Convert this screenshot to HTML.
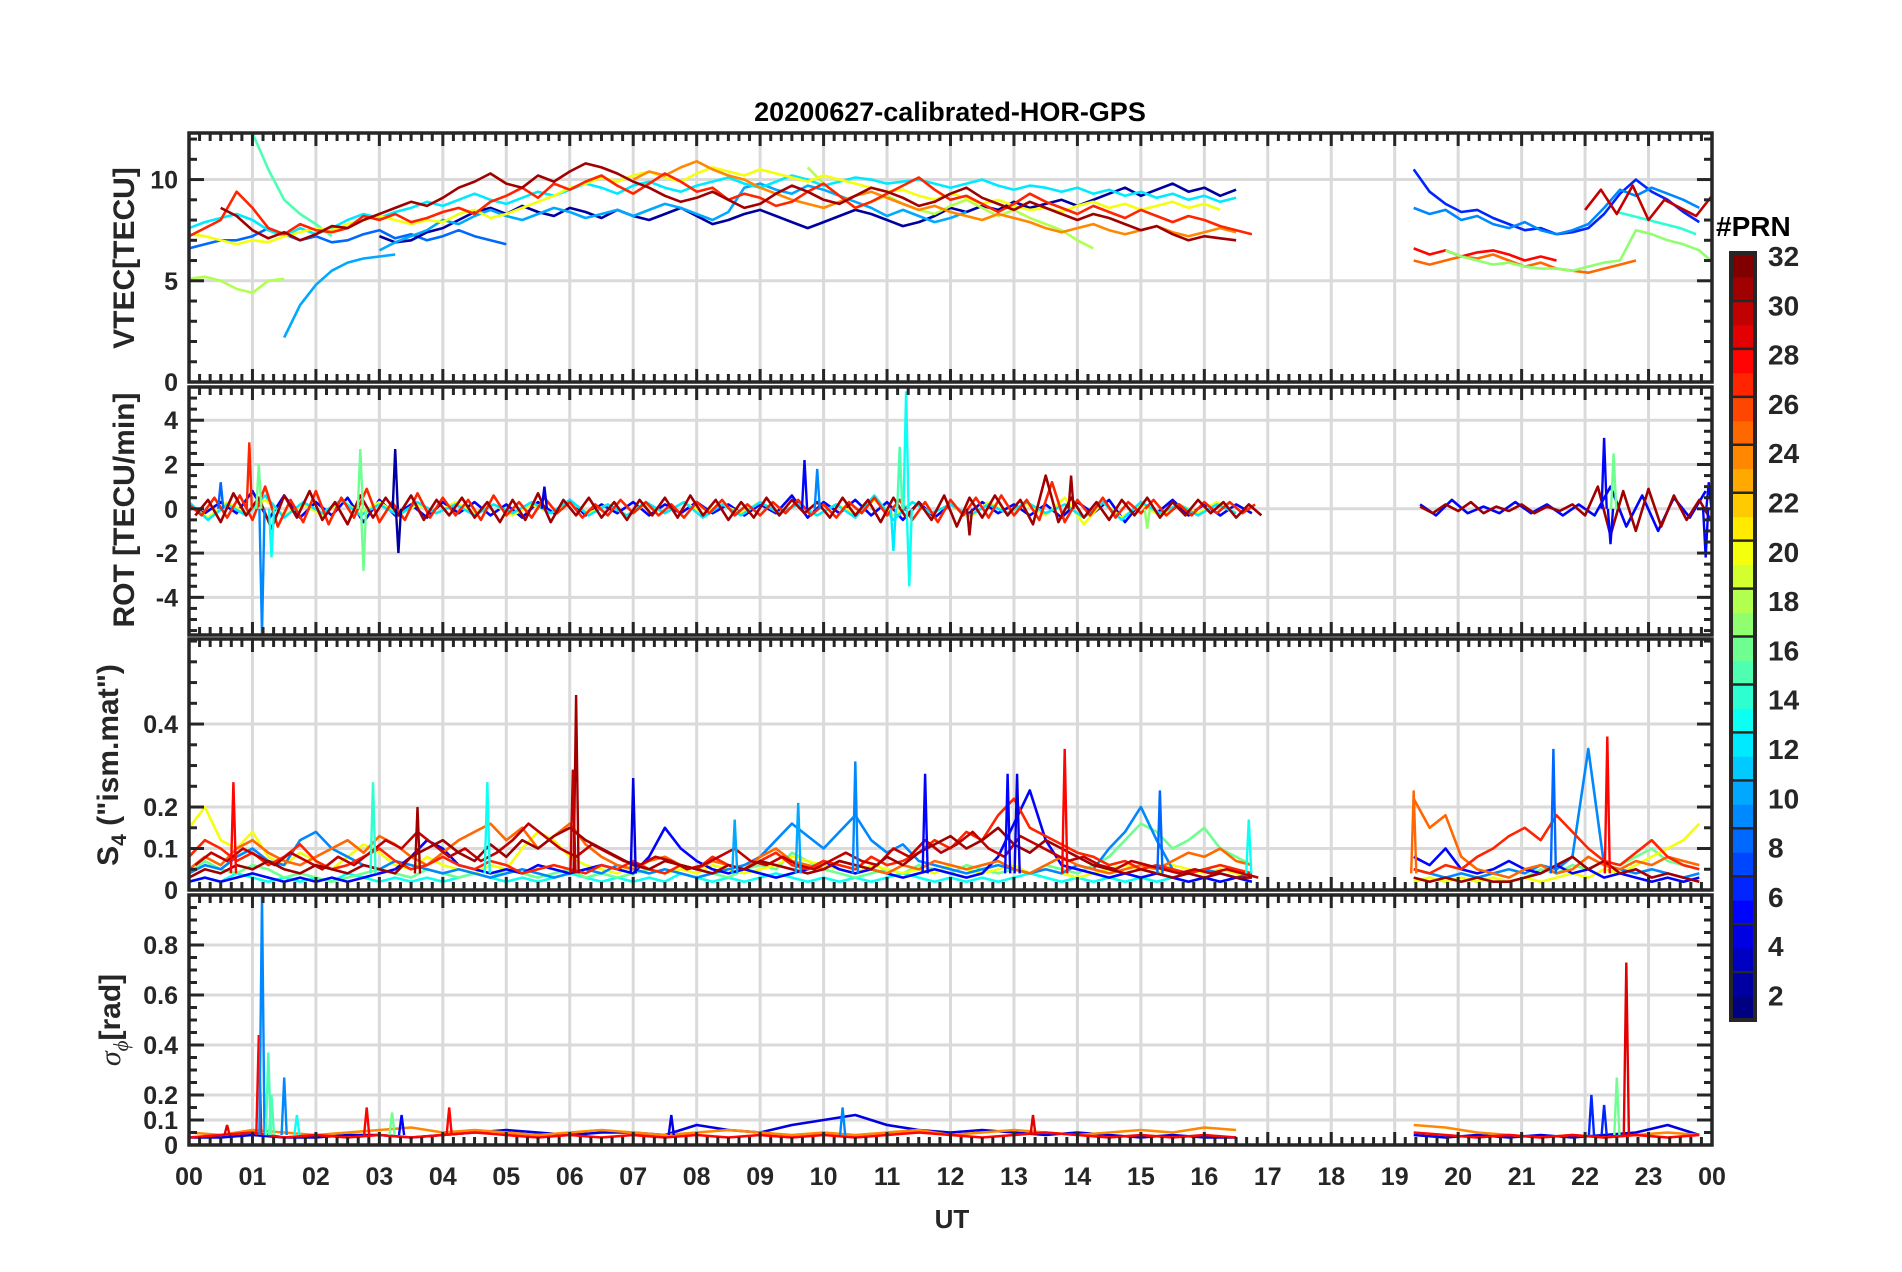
<!DOCTYPE html>
<html><head><meta charset="utf-8"><style>
html,body{margin:0;padding:0;background:#fff}
svg{display:block}
text{font-family:"Liberation Sans",Arial,sans-serif;font-weight:bold;fill:#262626}
</style></head>
<body>
<svg id="fig" width="1902" height="1272" viewBox="0 0 1902 1272" xmlns="http://www.w3.org/2000/svg">
<text x="950" y="121" text-anchor="middle" font-size="27" style="fill:#000">20200627-calibrated-HOR-GPS</text>
<text transform="translate(134,258) rotate(-90)" text-anchor="middle" font-size="30">VTEC[TECU]</text>
<text transform="translate(134,510) rotate(-90)" text-anchor="middle" font-size="30">ROT [TECU/min]</text>
<text transform="translate(118,765) rotate(-90)" text-anchor="middle" font-size="30">S<tspan font-size="21" dy="8">4</tspan><tspan dy="-8"> ("ism.mat")</tspan></text>
<text transform="translate(120,1020) rotate(-90)" text-anchor="middle" font-size="30"><tspan font-style="italic" font-weight="normal" font-family="Liberation Serif">σ</tspan><tspan font-size="21" dy="8" font-style="italic" font-weight="normal" font-family="Liberation Serif">ϕ</tspan><tspan dy="-8">[rad]</tspan></text>
<text x="952" y="1228" text-anchor="middle" font-size="26">UT</text>
<text x="1716" y="236" font-size="28" style="fill:#000">#PRN</text>
<g id="grid"></g><g id="data"></g><g id="axes"></g><g id="cbar"></g>
</svg>
<script>
// ---------- DATA ----------
// VTEC (TECU), step 0.25 h
const vtecRed27 = [7.2,7.6,8.0,9.4,8.6,7.6,7.3,7.8,7.5,7.4,7.6,8.2,8.0,8.3,7.9,8.1,8.4,8.6,8.3,8.9,9.2,9.6,9.1,9.8,9.5,9.9,10.2,9.7,9.3,9.8,10.3,9.9,9.4,9.6,9.0,9.3,9.1,8.7,8.9,9.4,9.8,9.2,8.6,8.9,9.3,9.7,10.1,9.5,9.0,9.2,8.8,8.4,8.8,9.3,8.9,8.6,8.3,8.7,8.4,8.1,8.5,8.2,7.9,8.2,8.0,7.7,7.5,7.3];
const vtecDark31 = [8.6,8.2,7.5,7.1,7.4,7.0,7.3,7.7,7.6,8.0,8.3,8.6,8.9,8.7,9.1,9.6,9.9,10.3,9.8,9.6,10.2,9.9,10.4,10.8,10.6,10.3,9.9,9.6,9.2,8.9,9.1,9.4,9.0,8.6,8.8,9.3,9.7,9.4,9.0,8.8,9.2,9.6,9.4,9.1,8.7,8.9,9.3,9.6,9.1,8.8,8.5,8.9,8.6,8.3,8.0,8.3,8.1,7.8,7.5,7.7,7.3,7.0,7.2,7.1,7.0];
const vtecBlue8 = [6.6,6.8,7.0,7.0,7.2,7.6,7.3,7.0,7.2,6.9,7.0,7.3,7.5,7.1,7.3,7.0,7.2,7.5,7.2,7.0,6.8];
const vtecNavy2 = [7.2,6.9,7.0,7.4,7.6,8.0,8.4,8.6,8.3,8.7,8.4,8.2,8.6,8.4,8.1,8.5,8.2,8.0,8.3,8.6,8.2,7.8,8.0,8.3,8.5,8.2,7.9,7.6,7.9,8.2,8.5,8.3,8.0,7.7,7.9,8.2,8.6,8.4,8.7,8.5,8.9,8.6,8.8,9.0,8.7,9.0,9.3,9.6,9.2,9.5,9.8,9.4,9.6,9.2,9.5];
const vtecCyan12 = [7.6,7.9,8.1,8.3,8.0,7.5,7.2,7.6,7.3,7.6,8.0,8.3,8.1,8.4,8.6,8.9,8.7,9.0,9.3,9.0,8.8,9.1,9.4,9.2,9.5,9.8,9.6,9.3,9.7,9.9,9.6,9.4,9.7,9.9,10.1,9.8,9.6,9.9,10.2,10.0,9.7,9.9,10.1,10.0,9.8,9.9,10.0,9.8,9.6,9.8,10.0,9.7,9.5,9.7,9.6,9.4,9.6,9.3,9.5,9.2,9.4,9.1,9.3,9.0,9.2,8.9,9.1];
const vtecYellow20 = [7.3,7.2,7.0,6.8,7.0,6.9,7.2,7.4,7.6,7.5,7.8,8.0,8.2,8.0,7.8,8.0,7.9,8.3,8.5,8.1,8.3,8.6,8.9,9.2,9.6,9.8,10.1,9.9,10.2,10.4,10.1,9.9,10.3,10.6,10.4,10.2,10.5,10.3,10.1,9.9,10.2,10.0,9.8,9.6,9.4,9.5,9.2,9.0,9.3,9.1,8.8,9.0,8.7,8.5,8.6,8.4,8.7,8.9,8.6,8.8,8.5,8.7,8.9,8.6,8.8,8.5];
const vtecOrange24 = [10.0,10.4,10.2,10.6,10.9,10.5,10.2,10.0,9.6,9.3,9.0,8.8,8.6,8.9,9.2,9.4,9.1,8.8,8.5,8.7,8.4,8.2,8.0,8.3,8.1,7.9,7.6,7.4,7.6,7.8,7.5,7.3,7.5,7.7,7.4,7.2,7.4,7.6,7.4];
const vtecLime18a = [5.1,5.2,5.0,4.6,4.4,5.0,5.1];
const vtecLime18b = [10.6,9.8,9.2,8.6,8.9,9.2,8.8,8.5,8.3,8.7,9.0,8.6,8.2,8.5,8.1,7.8,7.5,7.0,6.6];
const vtecSky10a = [2.2,3.8,4.8,5.5,5.9,6.1,6.2,6.3];
const vtecSky10b = [6.5,6.9,7.2,7.5,8.0,7.8,8.2,8.5,8.2,8.0,8.3,8.6,8.4,8.1,8.3,8.5,8.2,8.5,8.8,8.6,8.3,8.0,8.4,9.6,9.8,9.5,9.3,9.7,9.5,9.2,8.9,8.6,8.2,8.5,8.2,7.9,8.1,8.4];
const vtecGreen15 = [12.3,10.5,9.0,8.3,7.8,7.2];
const vtecBlue6Eve = [10.5,9.4,8.8,8.4,8.5,8.1,7.8,7.5,7.6,7.3,7.4,7.6,8.3,9.3,10.0,9.4,9.0,8.4,7.9];
const vtecSky9Eve = [8.6,8.3,8.5,8.0,8.2,7.8,7.6,7.9,7.5,7.3,7.5,7.8,8.6,9.5,9.2,9.6,9.3,9.0,8.6];
const vtecRed28Eve = [6.6,6.3,6.5,6.2,6.4,6.5,6.3,6.0,6.2,6.0];
const vtecOrange25Eve = [6.0,5.8,6.0,6.2,6.1,6.3,6.0,5.7,5.9,5.6,5.5,5.4,5.6,5.8,6.0];
const vtecGreen17Eve = [6.5,6.2,6.0,5.8,5.9,5.7,5.6,5.6,5.5,5.7,5.9,6.0,7.5,7.3,7.0,6.8,6.5,5.8];
const vtecDark30Eve = [8.5,9.5,8.3,9.7,8.0,9.0,8.6,8.2,9.2];
const vtecCyan14Eve = [8.4,8.2,8.0,7.8,7.6,7.3];
// ROT (TECU/min)
const rotRed27 = [0.2,-0.3,0.5,-0.4,0.6,-0.5,1.0,-0.8,0.4,-0.6,0.8,-0.7,0.5,-0.4,0.9,-0.6,0.3,-0.5,0.7,-0.4,0.5,-0.3,0.4,-0.5,0.6,-0.3,0.3,-0.4,0.5,-0.2,0.3,-0.4,0.2,-0.3,0.4,-0.2,0.3,-0.3,0.2,-0.4,0.3,-0.2,0.4,-0.3,0.2,-0.3,0.3,-0.2,0.4,-0.3,0.2,-0.4,0.3,-0.2,0.5,-0.3,0.4,-0.5,0.3,-0.6,0.4,-0.3,0.5,-0.4,0.6,-0.3,0.4,-0.5,1.2,-0.6,0.4,-0.3,0.5,-0.4,0.3,-0.2,0.4,-0.3,0.2,-0.3,0.3,-0.2,0.3,-0.2,0.2];
const rotRed27Eve = [0.1,-0.2,0.2,-0.1,0.3,-0.2,0.1,-0.1,0.2,-0.2,0.1,-0.1,0.2,-0.3,1.0,-1.2,0.8,-1.0,0.9,-0.8,0.6,-0.5,0.4,-0.6];
const rotDark31 = [-0.3,0.4,-0.6,0.7,-0.3,0.5,-0.9,0.6,-0.4,0.8,-0.5,0.3,-0.7,0.6,-0.4,0.5,-0.3,0.6,-0.5,0.4,-0.3,0.5,-0.4,0.3,-0.6,0.4,-0.5,0.7,-0.6,0.4,-0.3,0.5,-0.4,0.3,-0.5,0.4,-0.3,0.5,-0.4,0.6,-0.3,0.4,-0.5,0.3,-0.4,0.5,-0.3,0.4,-0.2,0.3,-0.4,0.5,-0.3,0.4,-0.6,0.5,-0.4,0.3,-0.5,0.6,-0.8,0.5,-0.4,0.6,-0.3,0.4,-0.7,1.5,-0.6,0.5,-0.4,0.3,-0.5,0.4,-0.3,0.5,-0.4,0.3,-0.3,0.4,-0.2,0.3,-0.4,0.2,-0.3];
const rotCyan12 = [0.3,-0.5,0.2,-0.3,0.6,-0.4,0.3,-0.2,0.4,-0.3,0.2,-0.3,0.3,-0.2,0.2,-0.3,0.2,-0.2,0.3,-0.2,0.4,-0.3,0.2,-0.3,0.3,-0.2,0.3,-0.4,0.2,-0.3,0.3,-0.2,0.2,-0.3,0.2,-0.4,0.6,-0.5,0.3,-0.2,0.2,-0.3,0.2,-0.2,0.3,-0.2,0.2,-0.4,0.3,-0.5,0.3,-0.2,0.2,-0.3,0.2,-0.2];
const rotBlue5 = [0.1,-0.2,0.3,-0.2,0.8,-0.5,0.6,-0.4,0.3,-0.3,0.5,-0.6,0.4,-0.3,0.2,-0.4,0.3,-0.2,0.3,-0.3,0.2,-0.4,0.3,-0.2,0.4,-0.3,0.2,-0.2,0.3,-0.3,0.2,-0.2,0.3,-0.2,0.2,-0.3,0.2,-0.2,0.6,-0.4,0.3,-0.2,0.4,-0.3,0.3,-0.5,0.3,-0.4,0.2,-0.3,0.3,-0.2,0.2,-0.3,0.2,-0.4,0.3,-0.2,0.4,-0.6,0.3,-0.2,0.4,-0.3,0.2,-0.3,0.2,-0.2];
const rotBlue5Eve = [0.2,-0.3,0.4,-0.2,0.1,-0.2,0.3,-0.2,0.2,-0.3,0.2,-0.3,1.0,-0.8,0.6,-1.0,0.5,-0.4,0.8];
const rotYellow20 = [0.2,-0.4,0.3,-0.2,0.4,-0.3,0.2,-0.3,0.4,-0.2,0.3,-0.3,0.2,-0.2,0.3,-0.2,0.2,-0.3,0.2,-0.2,0.3,-0.2,0.2,-0.3,0.2,-0.2,0.3,-0.2,0.2,-0.2,0.3,-0.2,0.2,-0.3,0.2,-0.2,0.4,-0.3,0.3,-0.2,0.2,-0.4,0.3,-0.2,0.2,-0.3,0.5,-0.7,0.3,-0.4,0.2,-0.3,0.2,-0.2,0.3,-0.2];
const rotSpikeT = [0.95,1.15,1.1,1.3,2.7,2.75,3.25,3.3,9.7,9.9,11.3,11.35,11.2,11.1,13.9,12.3,22.3,22.4,22.45,23.95,23.9,15.1,0.5,5.6];
const rotSpikeV = [3.0,-5.7,2.0,-2.2,2.7,-2.8,2.7,-2.0,2.2,1.8,5.3,-3.5,2.8,-1.9,1.5,-1.2,3.2,-1.6,2.5,1.2,-2.2,-0.9,1.2,1.0];
const rotSpikePrn = [27,9,16,13,16,16,2,2,5,9,13,13,15,12,31,31,5,5,16,5,5,17,8,4];
// S4, step 0.25 h
const s4Dark31 = [0.03,0.05,0.04,0.06,0.05,0.07,0.05,0.04,0.06,0.05,0.04,0.06,0.05,0.04,0.08,0.10,0.12,0.09,0.07,0.11,0.08,0.12,0.10,0.13,0.15,0.12,0.10,0.08,0.06,0.05,0.07,0.06,0.05,0.04,0.06,0.05,0.07,0.06,0.05,0.04,0.05,0.07,0.06,0.05,0.08,0.06,0.09,0.11,0.13,0.10,0.12,0.15,0.11,0.09,0.12,0.10,0.08,0.06,0.05,0.04,0.05,0.04,0.03,0.04,0.03,0.04,0.03,0.03];
const s4Dark31Eve = [0.03,0.02,0.03,0.02,0.03,0.02,0.02,0.03,0.04,0.06,0.08,0.05,0.07,0.04,0.05,0.03,0.04,0.03,0.02];
const s4Dark30 = [0.06,0.09,0.07,0.10,0.08,0.06,0.09,0.07,0.05,0.08,0.06,0.09,0.12,0.10,0.14,0.11,0.08,0.10,0.07,0.09,0.12,0.16,0.13,0.10,0.08,0.11,0.09,0.07,0.06,0.08,0.07,0.05,0.06,0.08,0.10,0.07,0.06,0.08,0.06,0.05,0.07,0.09,0.07,0.06,0.10,0.08,0.12,0.09,0.11,0.14,0.10,0.08,0.13,0.11,0.09,0.07,0.08,0.06,0.05,0.07,0.06,0.05,0.04,0.05,0.04,0.05,0.04,0.03];
const s4Cyan13 = [0.02,0.03,0.02,0.04,0.03,0.02,0.03,0.02,0.03,0.02,0.04,0.03,0.02,0.03,0.02,0.03,0.02,0.03,0.04,0.03,0.02,0.03,0.02,0.03,0.04,0.03,0.02,0.03,0.02,0.03,0.02,0.04,0.03,0.02,0.03,0.02,0.03,0.04,0.03,0.02,0.03,0.02,0.03,0.02,0.03,0.04,0.03,0.02,0.03,0.02,0.03,0.02,0.03,0.04,0.03,0.02,0.03,0.02,0.03,0.02,0.03,0.02,0.03,0.02,0.03,0.02,0.03,0.02];
const s4Red27 = [0.08,0.12,0.10,0.07,0.09,0.06,0.08,0.11,0.07,0.05,0.06,0.08,0.10,0.07,0.05,0.06,0.08,0.06,0.05,0.07,0.06,0.04,0.05,0.06,0.05,0.04,0.06,0.05,0.07,0.05,0.04,0.06,0.05,0.08,0.06,0.05,0.07,0.09,0.06,0.05,0.07,0.06,0.05,0.08,0.06,0.07,0.09,0.12,0.10,0.14,0.12,0.18,0.22,0.15,0.13,0.11,0.09,0.08,0.06,0.07,0.05,0.06,0.05,0.04,0.05,0.06,0.05,0.04];
const s4Red27Eve = [0.05,0.04,0.06,0.05,0.08,0.10,0.13,0.15,0.12,0.18,0.14,0.10,0.07,0.06,0.09,0.12,0.08,0.06,0.05];
const s4Orange25 = [0.05,0.08,0.06,0.10,0.12,0.09,0.07,0.06,0.08,0.10,0.12,0.09,0.13,0.11,0.08,0.06,0.09,0.12,0.14,0.16,0.12,0.15,0.10,0.13,0.16,0.11,0.08,0.06,0.05,0.07,0.08,0.06,0.05,0.07,0.06,0.05,0.08,0.10,0.07,0.06,0.05,0.07,0.06,0.05,0.04,0.06,0.05,0.07,0.06,0.05,0.06,0.07,0.05,0.04,0.06,0.08,0.06,0.05,0.04,0.05,0.06,0.05,0.07,0.09,0.08,0.10,0.07,0.06];
const s4Orange25Eve = [0.22,0.15,0.18,0.08,0.05,0.04,0.03,0.05,0.06,0.04,0.05,0.08,0.06,0.05,0.07,0.06,0.08,0.07,0.06];
const s4Yellow20 = [0.15,0.20,0.12,0.10,0.14,0.08,0.06,0.09,0.07,0.05,0.08,0.11,0.09,0.06,0.05,0.08,0.06,0.05,0.04,0.06,0.05,0.10,0.14,0.12,0.08,0.06,0.05,0.04,0.06,0.05,0.04,0.05,0.04,0.06,0.05,0.04,0.05,0.06,0.08,0.07,0.06,0.05,0.04,0.06,0.05,0.04,0.05,0.04,0.06,0.05,0.04,0.05,0.06,0.04,0.05,0.04,0.03,0.04,0.05,0.06,0.05,0.04,0.06,0.05,0.04,0.05,0.04,0.03];
const s4Yellow20Eve = [0.02,0.03,0.02,0.03,0.02,0.03,0.02,0.03,0.02,0.03,0.04,0.03,0.05,0.04,0.06,0.08,0.10,0.12,0.16];
const s4Sky9 = [0.04,0.06,0.05,0.08,0.10,0.07,0.06,0.12,0.14,0.10,0.08,0.06,0.05,0.07,0.06,0.05,0.04,0.05,0.04,0.03,0.04,0.05,0.04,0.03,0.04,0.05,0.04,0.06,0.05,0.04,0.05,0.04,0.03,0.04,0.05,0.06,0.08,0.12,0.16,0.13,0.10,0.14,0.18,0.12,0.09,0.11,0.07,0.06,0.05,0.04,0.05,0.06,0.05,0.04,0.05,0.04,0.06,0.05,0.10,0.14,0.20,0.12,0.05,0.04,0.05,0.04,0.03,0.04];
const s4Sky9Eve = [0.05,0.04,0.03,0.04,0.03,0.04,0.05,0.04,0.06,0.05,0.08,0.34,0.06,0.05,0.04,0.05,0.04,0.03,0.04];
const s4Blue5 = [0.02,0.03,0.02,0.03,0.04,0.03,0.02,0.03,0.02,0.03,0.02,0.03,0.04,0.05,0.08,0.12,0.10,0.06,0.05,0.04,0.05,0.04,0.06,0.05,0.04,0.05,0.06,0.05,0.04,0.08,0.15,0.10,0.07,0.05,0.04,0.05,0.04,0.03,0.04,0.05,0.07,0.05,0.04,0.05,0.04,0.03,0.04,0.05,0.04,0.03,0.04,0.08,0.16,0.24,0.12,0.06,0.05,0.04,0.03,0.04,0.03,0.04,0.03,0.02,0.03,0.02,0.03,0.02];
const s4Blue5Eve = [0.08,0.06,0.10,0.05,0.04,0.05,0.07,0.05,0.04,0.06,0.04,0.05,0.03,0.04,0.03,0.02,0.03,0.02,0.03];
const s4Green16 = [0.04,0.07,0.05,0.04,0.06,0.05,0.03,0.04,0.03,0.02,0.03,0.04,0.05,0.04,0.03,0.05,0.04,0.03,0.04,0.03,0.05,0.04,0.03,0.04,0.05,0.03,0.04,0.03,0.04,0.05,0.04,0.06,0.05,0.04,0.03,0.05,0.06,0.05,0.09,0.07,0.05,0.04,0.03,0.04,0.05,0.04,0.06,0.05,0.04,0.06,0.05,0.04,0.05,0.04,0.06,0.05,0.04,0.06,0.08,0.12,0.16,0.14,0.10,0.12,0.15,0.10,0.08,0.06];
const s4Green16Eve = [0.02,0.03,0.02,0.03,0.02,0.03,0.02,0.03,0.05,0.04,0.06,0.05,0.07,0.06,0.08,0.10,0.07,0.06,0.05];
const s4SpikeT = [6.1,13.8,22.35,21.5,9.6,10.5,12.9,13.05,0.7,2.9,4.7,11.6,7.0,15.3,16.7,19.3,6.05,3.6,8.6];
const s4SpikeV = [0.47,0.34,0.37,0.34,0.21,0.31,0.28,0.28,0.26,0.26,0.26,0.28,0.27,0.24,0.17,0.24,0.29,0.20,0.17];
const s4SpikePrn = [31,28,28,8,10,9,5,4,28,14,13,5,4,8,13,25,30,31,10];
// Sigma-phi (rad), step 0.5 h
const sigOrange24 = [0.05,0.04,0.06,0.05,0.04,0.05,0.06,0.07,0.05,0.06,0.05,0.04,0.05,0.06,0.05,0.04,0.05,0.06,0.05,0.04,0.05,0.04,0.05,0.06,0.04,0.05,0.06,0.05,0.04,0.05,0.06,0.05,0.07,0.06];
const sigOrange24Eve = [0.08,0.07,0.05,0.04,0.03,0.04,0.03,0.04,0.05,0.04];
const sigRed28 = [0.03,0.04,0.05,0.03,0.04,0.03,0.04,0.03,0.04,0.05,0.04,0.03,0.04,0.03,0.04,0.03,0.04,0.03,0.04,0.03,0.04,0.03,0.04,0.05,0.04,0.03,0.04,0.05,0.04,0.03,0.04,0.03,0.04,0.03];
const sigRed28Eve = [0.05,0.04,0.03,0.04,0.03,0.04,0.03,0.04,0.03,0.04];
const sigBlue4 = [0.03,0.03,0.04,0.03,0.03,0.04,0.04,0.03,0.04,0.05,0.06,0.05,0.04,0.05,0.05,0.04,0.08,0.06,0.05,0.08,0.10,0.12,0.08,0.06,0.05,0.06,0.05,0.04,0.05,0.04,0.03,0.04,0.03,0.03];
const sigBlue4Eve = [0.04,0.03,0.04,0.03,0.04,0.03,0.04,0.05,0.08,0.04];
const sigSpikeT = [1.1,1.15,1.25,1.5,1.3,2.8,3.2,4.1,3.35,7.6,10.3,22.65,22.5,22.1,22.3,13.3,0.6,1.7];
const sigSpikeV = [0.44,1.0,0.37,0.27,0.2,0.15,0.13,0.15,0.12,0.12,0.15,0.73,0.27,0.2,0.16,0.12,0.08,0.12];
const sigSpikePrn = [28,9,15,9,15,28,16,28,5,4,9,29,16,6,6,29,29,13];
// x tick labels and colorbar labels
const xTickLabels = ["00","01","02","03","04","05","06","07","08","09","10","11","12","13","14","15","16","17","18","19","20","21","22","23","00"];
const cbarLabels = [2,4,6,8,10,12,14,16,18,20,22,24,26,28,30,32];

// ---------- LAYOUT ----------
const NS="http://www.w3.org/2000/svg";
const X0=189, X1=1712;
const panels=[
 {name:'vtec',top:133,bot:382,min:0,max:12.3,ticks:[0,5,10],labels:['0','5','10'],minor:1},
 {name:'rot',top:387,bot:635,min:-5.7,max:5.5,ticks:[-4,-2,0,2,4],labels:['-4','-2','0','2','4'],minor:0.5},
 {name:'s4',top:639,bot:890,min:0,max:0.605,ticks:[0,0.1,0.2,0.4],labels:['0','0.1','0.2','0.4'],minor:0.05},
 {name:'sigma',top:895,bot:1145,min:0,max:1.0,ticks:[0,0.1,0.2,0.4,0.6,0.8],labels:['0','0.1','0.2','0.4','0.6','0.8'],minor:0.05}
];
function xs(t){return X0+(X1-X0)*t/24;}
function ys(p,v){return p.bot-(v-p.min)/(p.max-p.min)*(p.bot-p.top);}
function jet(prn){const v=(prn-1)/31;const c=x=>Math.round(255*Math.max(0,Math.min(1,1.5-Math.abs(4*v-x))));return `rgb(${c(3)},${c(2)},${c(1)})`;}
function mk(tag,attrs,parent){const e=document.createElementNS(NS,tag);for(const k in attrs)e.setAttribute(k,attrs[k]);parent.appendChild(e);return e;}
const svg=document.getElementById('fig');
const gGrid=document.getElementById('grid'),gData=document.getElementById('data'),gAxes=document.getElementById('axes'),gC=document.getElementById('cbar');
const defs=mk('defs',{},svg);
panels.forEach((p,i)=>{const cp=mk('clipPath',{id:'clip'+i},defs);mk('rect',{x:X0,y:p.top,width:X1-X0,height:p.bot-p.top},cp);});

// grid
panels.forEach((p,i)=>{
 for(let h=1;h<24;h++){const l=mk('line',{x1:xs(h),x2:xs(h),y1:p.top,y2:p.bot,stroke:'#dadada','stroke-width':3},gGrid);
 
 }
 p.ticks.forEach(v=>{if(v===0&&p.min===0)return;const l=mk('line',{x1:X0,x2:X1,y1:ys(p,v),y2:ys(p,v),stroke:'#dadada','stroke-width':3},gGrid);
 
 });
});

function series(pi,prn,t0,step,vals,w){
 const p=panels[pi];
 const pts=vals.map((v,k)=>xs(t0+k*step).toFixed(1)+','+ys(p,v).toFixed(1)).join(' ');
 const e=mk('polyline',{points:pts,fill:'none',stroke:jet(prn),'stroke-width':w||2.6,'stroke-linejoin':'round','clip-path':'url(#clip'+pi+')'},gData);
 
 
}
function spikes(pi,ts,vs,prns,base){
 const p=panels[pi];
 ts.forEach((t,k)=>{
  const pts=[[t-0.04,base],[t,vs[k]],[t+0.04,base]].map(a=>xs(a[0]).toFixed(1)+','+ys(p,a[1]).toFixed(1)).join(' ');
  const e=mk('polyline',{points:pts,fill:'none',stroke:jet(prns[k]),'stroke-width':2.4,'clip-path':'url(#clip'+pi+')'},gData);
  
  
 });
}
// VTEC
series(0,8,0,0.25,vtecBlue8);series(0,2,3,0.25,vtecNavy2);series(0,10,1.5,0.25,vtecSky10a);series(0,10,3,0.25,vtecSky10b);
series(0,12,0,0.25,vtecCyan12);series(0,15,1.0,0.25,vtecGreen15);series(0,18,0,0.25,vtecLime18a);series(0,18,9.75,0.25,vtecLime18b);
series(0,20,0,0.25,vtecYellow20);series(0,24,7,0.25,vtecOrange24);series(0,27,0,0.25,vtecRed27);series(0,31,0.5,0.25,vtecDark31);
series(0,6,19.3,0.25,vtecBlue6Eve);series(0,9,19.3,0.25,vtecSky9Eve);series(0,28,19.3,0.25,vtecRed28Eve);series(0,25,19.3,0.25,vtecOrange25Eve);
series(0,17,19.8,0.25,vtecGreen17Eve);series(0,14,22.5,0.25,vtecCyan14Eve);series(0,30,22,0.25,vtecDark30Eve);
// ROT
series(1,5,0,0.25,rotBlue5);series(1,5,19.4,0.25,rotBlue5Eve);series(1,20,0,0.3,rotYellow20);series(1,12,0,0.3,rotCyan12);
series(1,27,0,0.2,rotRed27);series(1,31,0.1,0.2,rotDark31);series(1,31,19.4,0.2,rotRed27Eve);
spikes(1,rotSpikeT,rotSpikeV,rotSpikePrn,0);
// S4
series(2,13,0,0.25,s4Cyan13);
series(2,16,0,0.25,s4Green16);series(2,16,19.3,0.25,s4Green16Eve);series(2,20,0,0.25,s4Yellow20);series(2,20,19.3,0.25,s4Yellow20Eve);
series(2,9,0,0.25,s4Sky9);series(2,9,19.3,0.25,s4Sky9Eve);series(2,5,0,0.25,s4Blue5);series(2,5,19.3,0.25,s4Blue5Eve);
series(2,25,0,0.25,s4Orange25);series(2,25,19.3,0.25,s4Orange25Eve);series(2,27,0,0.25,s4Red27);series(2,27,19.3,0.25,s4Red27Eve);
series(2,30,0.1,0.25,s4Dark30);series(2,31,0,0.25,s4Dark31);series(2,31,19.3,0.25,s4Dark31Eve);
spikes(2,s4SpikeT,s4SpikeV,s4SpikePrn,0.04);
// sigma
series(3,4,0,0.5,sigBlue4);series(3,4,19.3,0.5,sigBlue4Eve);series(3,24,0,0.5,sigOrange24);series(3,24,19.3,0.5,sigOrange24Eve);
series(3,28,0,0.5,sigRed28);series(3,28,19.3,0.5,sigRed28Eve);
spikes(3,sigSpikeT,sigSpikeV,sigSpikePrn,0.04);

// axes
const AX='#262626';
panels.forEach((p,i)=>{
 const fr=mk('rect',{x:X0,y:p.top,width:X1-X0,height:p.bot-p.top,fill:'none',stroke:AX,'stroke-width':3.5},gAxes);
 
 
 for(let m=0;m<=144;m++){const x=xs(m/6);const L=(m%6===0)?13:8;
  mk('line',{x1:x,x2:x,y1:p.top,y2:p.top+L,stroke:AX,'stroke-width':3},gAxes);
  mk('line',{x1:x,x2:x,y1:p.bot,y2:p.bot-L,stroke:AX,'stroke-width':3},gAxes);}
 const start=Math.ceil(p.min/p.minor-1e-6);
 for(let k=start;k*p.minor<=p.max+1e-9;k++){const v=k*p.minor;const y=ys(p,v);
  const major=p.ticks.some(t=>Math.abs(t-v)<1e-9);const L=major?15:8;
  mk('line',{x1:X0,x2:X0+L,y1:y,y2:y,stroke:AX,'stroke-width':3},gAxes);
  mk('line',{x1:X1,x2:X1-L,y1:y,y2:y,stroke:AX,'stroke-width':3},gAxes);}
 p.ticks.forEach((v,k)=>{const t=mk('text',{x:178,y:ys(p,v)+9,'text-anchor':'end','font-size':25},gAxes);t.textContent=p.labels[k];
  
  });
});
xTickLabels.forEach((s,h)=>{const t=mk('text',{x:xs(h),y:1185,'text-anchor':'middle','font-size':25},gAxes);t.textContent=s;
 
 });

// colorbar
const CB={x:1731,w:24,top:253,bot:1020};
for(let k=0;k<32;k++){const h=(CB.bot-CB.top)/32;
 const r=mk('rect',{x:CB.x,y:CB.top+(31-k)*h,width:CB.w,height:h+0.5,fill:jet(k+1)},gC);
 
 }
for(let k=1;k<16;k++){const y=CB.top+k*(CB.bot-CB.top)/16;mk('line',{x1:CB.x,x2:CB.x+CB.w,y1:y,y2:y,stroke:AX,'stroke-width':2.5},gC);}
const cbf=mk('rect',{x:CB.x,y:CB.top,width:CB.w,height:CB.bot-CB.top,fill:'none',stroke:AX,'stroke-width':4},gC);


cbarLabels.forEach(v=>{const y=256+(32-v)*24.65;const t=mk('text',{x:1768,y:y+10,'font-size':28},gC);t.textContent=v;
 
 });
</script>
</body></html>
